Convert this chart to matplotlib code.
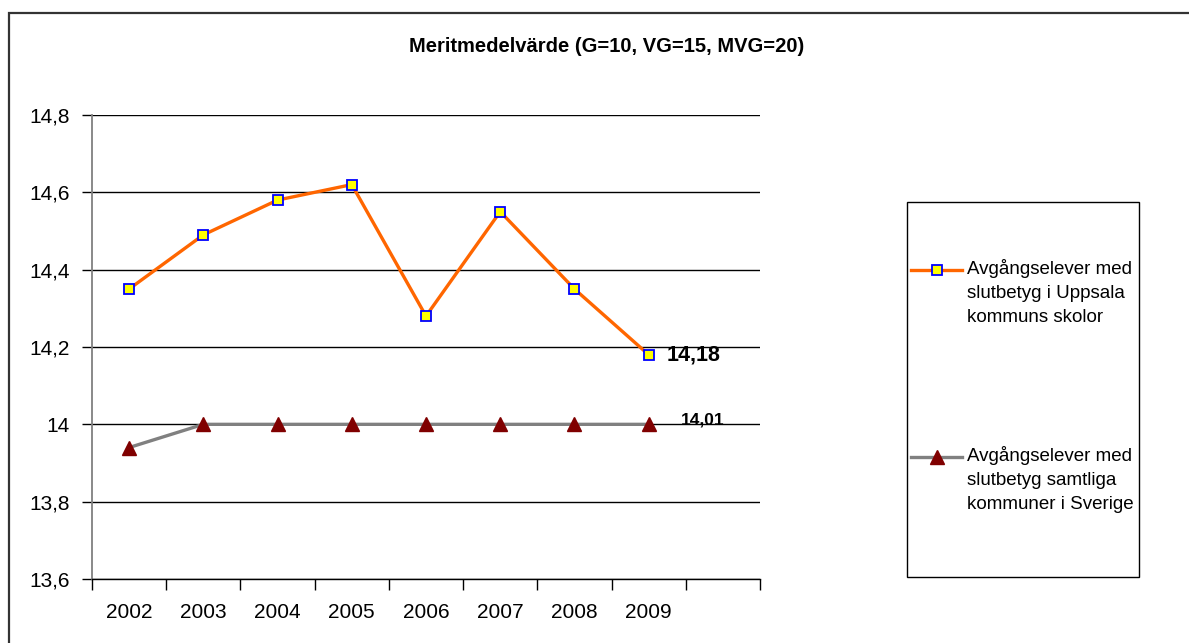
import matplotlib
matplotlib.use('Agg')
import matplotlib.pyplot as plt
from matplotlib import rcParams
from matplotlib.lines import Line2D
from matplotlib.patches import Rectangle
from matplotlib.ticker import FuncFormatter, FixedLocator

rcParams['font.family'] = ['Liberation Sans', 'DejaVu Sans']

# Data
years = ['2002', '2003', '2004', '2005', '2006', '2007', '2008', '2009']
uppsala = [14.35, 14.49, 14.58, 14.62, 14.28, 14.55, 14.35, 14.18]
sverige = [13.94, 14.0, 14.0, 14.0, 14.0, 14.0, 14.0, 14.0]
label_last = ['14,18', '14,01']
label_uppsala = 'Avgångselever med\nslutbetyg i Uppsala\nkommuns skolor'
label_sverige = 'Avgångselever med\nslutbetyg samtliga\nkommuner i Sverige'
title = 'Meritmedelvärde (G=10, VG=15, MVG=20)'

W, H = 1189, 643
fig = plt.figure(figsize=(W / 100, H / 100), dpi=100)
fig.patch.set_facecolor('white')


def fx(px):
    return px / W


def fy(py):
    return 1 - py / H


ax = fig.add_axes([fx(92), fy(579), fx(760) - fx(92), fy(115) - fy(579)])
ax.set_facecolor('white')

orange_style = dict(color='#FF6600', marker='s', markersize=7,
                    markerfacecolor='#FFFF00', markeredgecolor='#0000FF',
                    markeredgewidth=1.3)
gray_style = dict(color='#808080', marker='^', markersize=10,
                  markerfacecolor='#800000', markeredgecolor='#800000')

x = list(range(len(years)))
ax.plot(x, uppsala, linewidth=2.4, zorder=4, clip_on=False, **orange_style)
ax.plot(x, sverige, linewidth=2.4, zorder=3, clip_on=False, **gray_style)

# Data labels for the last year
ax.annotate(label_last[0], (x[-1], uppsala[-1]), xytext=(13, 0), textcoords='offset points',
            fontsize=15.5, fontweight='bold', va='center', ha='left')
ax.annotate(label_last[1], (x[-1], sverige[-1]), xytext=(23, 3), textcoords='offset points',
            fontsize=12.5, fontweight='bold', va='center', ha='left')

# Axes
ax.set_xlim(-0.5, len(years) + 0.5)
ax.set_ylim(13.6, 14.8)
ax.set_yticks([13.6, 13.8, 14.0, 14.2, 14.4, 14.6, 14.8])
ax.yaxis.set_major_formatter(FuncFormatter(lambda v, p: f'{v:g}'.replace('.', ',')))
ax.grid(True, axis='y', color='#000000', linewidth=1.0)
ax.set_axisbelow(True)

ax.set_xticks(x)
ax.set_xticklabels(years)
ax.xaxis.set_minor_locator(FixedLocator([i - 0.5 for i in range(len(years) + 2)]))
ax.tick_params(axis='x', which='major', length=0, pad=17, labelsize=15)
ax.tick_params(axis='x', which='minor', length=8, width=1, color='#000000', direction='out')
ax.tick_params(axis='y', which='major', length=7, width=1, color='#000000', labelsize=15, pad=9)

for s in ['top', 'right']:
    ax.spines[s].set_visible(False)
ax.spines['left'].set_color('#808080')
ax.spines['left'].set_linewidth(1.3)
ax.spines['bottom'].set_color('#000000')
ax.spines['bottom'].set_linewidth(1.0)

# Title
fig.text(fx(607), fy(47), title, fontsize=14.5, fontweight='bold', ha='center', va='center')

# Legend box drawn by hand so the marker sits on the first text line
fig.patches.append(Rectangle((fx(907), fy(577)), fx(1139) - fx(907), fy(202) - fy(577),
                             transform=fig.transFigure, facecolor='white',
                             edgecolor='#000000', linewidth=1.0))
entries = [(270, label_uppsala, orange_style), (457, label_sverige, gray_style)]
for ypix, lab, style in entries:
    fig.lines.append(Line2D([fx(911), fx(962)], [fy(ypix), fy(ypix)], linewidth=2.4,
                            color=style['color'], transform=fig.transFigure))
    fig.lines.append(Line2D([fx(936.5)], [fy(ypix)], linestyle='none',
                            transform=fig.transFigure,
                            **{k: v for k, v in style.items() if k != 'color'}))
    fig.text(fx(967), fy(ypix - 11), lab, fontsize=13.5, ha='left', va='top', linespacing=1.55)

# Outer chart frame (runs past the right and bottom edges)
fig.patches.append(Rectangle((fx(9), fy(660)), fx(1200) - fx(9), fy(13) - fy(660),
                             transform=fig.transFigure, facecolor='none',
                             edgecolor='#333333', linewidth=1.6))

plt.savefig('out.png', dpi=100, facecolor='white')
